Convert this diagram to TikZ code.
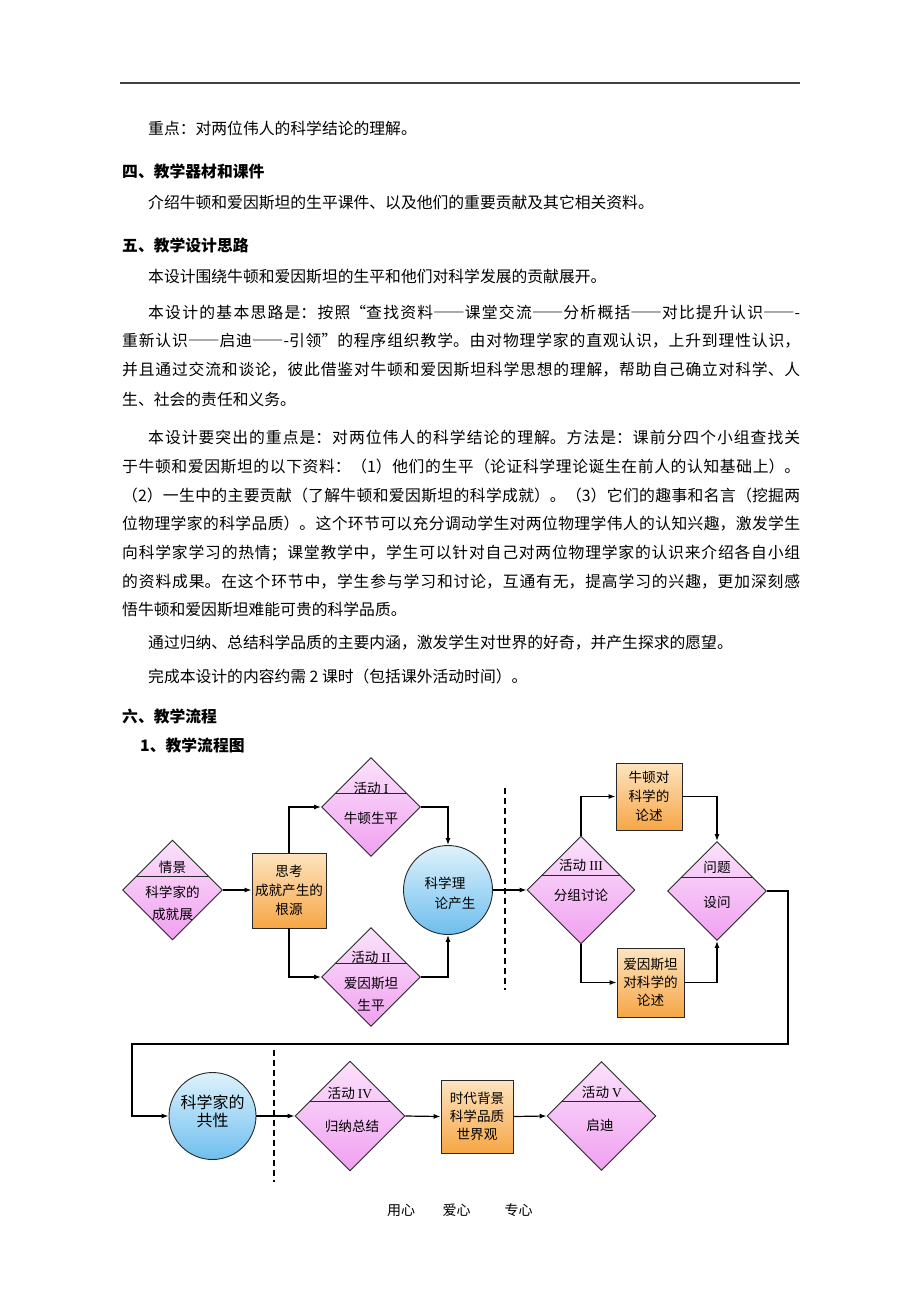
\documentclass[tikz,border=0pt]{standalone}
\usepackage{fontspec}
\setmainfont{Noto Sans CJK SC}
\newfontfamily\fw[RawFeature=+fwid]{Noto Sans CJK SC}
\newfontfamily\tnr{Liberation Serif}
\usetikzlibrary{shapes.geometric,arrows.meta}
\XeTeXlinebreaklocale "zh"
\XeTeXlinebreakskip=0pt plus 3pt minus 0.5pt
\definecolor{pinkT}{RGB}{251,226,251}
\definecolor{pinkB}{RGB}{240,160,240}
\definecolor{orT}{RGB}{253,228,192}
\definecolor{orB}{RGB}{246,166,70}
\definecolor{blT}{RGB}{222,242,252}
\definecolor{blB}{RGB}{110,190,238}
\definecolor{edge}{RGB}{40,40,40}
\newcommand\jl[2]{\parbox[b]{#1pt}{\tolerance=9999\parfillskip=0pt\relax #2}}
\begin{document}
\begin{tikzpicture}[x=1pt,y=-1pt,
  body/.style={inner sep=0,anchor=west,font=\fontsize{15.8}{18}\selectfont},
  head/.style={inner sep=0,anchor=west,font=\fontsize{15.8}{18}\selectfont\bfseries},
  dia/.style={diamond,shape aspect=1,draw=edge,line width=0.9pt,inner sep=0,minimum size=#1,
    top color=pinkT,bottom color=pinkB,
    path picture={\draw[edge,line width=0.9pt] ([yshift=0.135*#1]path picture bounding box.west) -- ([yshift=0.135*#1]path picture bounding box.east);}},
  obox/.style={rectangle,draw=edge,line width=0.9pt,top color=orT,bottom color=orB,inner sep=0,align=center,font=\fontsize{13.6}{19}\selectfont},
  circ/.style={circle,draw=edge,line width=0.9pt,top color=blT,bottom color=blB,inner sep=0},
  lab/.style={inner sep=0,align=center,font=\fontsize{13.6}{22}\selectfont},
  arr/.style={-{Latex[length=7pt,width=5pt]},line width=1.2pt,black},
  dsh/.style={dash pattern=on 6pt off 4pt,line width=1.3pt,black}]
\fill[white] (0,0) rectangle (920,1302);
\useasboundingbox (0,0) rectangle (920,1302);
\draw[line width=1.2pt,black!75] (120,83) -- (800,83);
% text
\node[body] (t1) at (148,128) {重点：对两位伟人的科学结论的理解。};
\node[head] (h4) at (122,171) {四、教学器材和课件};
\node[body] (t2) at (148,203) {介绍牛顿和爱因斯坦的生平课件、以及他们的重要贡献及其它相关资料。};
\node[head] (h5) at (122,245) {五、教学设计思路};
\node[body] (t3) at (148,277) {本设计围绕牛顿和爱因斯坦的生平和他们对科学发展的贡献展开。};
\node[body] (t4) at (148,312) {\jl{652}{本设计的基本思路是：按照{\fw “}查找资料{\fw ——}课堂交流{\fw ——}分析概括{\fw ——}对比提升认识{\fw ——}-}};
\node[body] (t5) at (122,341) {\jl{678}{重新认识{\fw ——}启迪{\fw ——}-引领{\fw ”}的程序组织教学。由对物理学家的直观认识，上升到理性认识，}};
\node[body] (t6) at (122,370) {\jl{678}{并且通过交流和谈论，彼此借鉴对牛顿和爱因斯坦科学思想的理解，帮助自己确立对科学、人}};
\node[body] (t7) at (122,399) {生、社会的责任和义务。};
\node[body] (t8) at (148,437) {\jl{652}{本设计要突出的重点是：对两位伟人的科学结论的理解。方法是：课前分四个小组查找关}};
\node[body] (t9) at (122,466) {\jl{678}{于牛顿和爱因斯坦的以下资料：（1）他们的生平（论证科学理论诞生在前人的认知基础上）。}};
\node[body] (t10) at (122,495) {\jl{678}{（2）一生中的主要贡献（了解牛顿和爱因斯坦的科学成就）。（3）它们的趣事和名言（挖掘两}};
\node[body] (t11) at (122,524) {\jl{678}{位物理学家的科学品质）。这个环节可以充分调动学生对两位物理学伟人的认知兴趣，激发学生}};
\node[body] (t12) at (122,553) {\jl{678}{向科学家学习的热情；课堂教学中，学生可以针对自己对两位物理学家的认识来介绍各自小组}};
\node[body] (t13) at (122,582) {\jl{678}{的资料成果。在这个环节中，学生参与学习和讨论，互通有无，提高学习的兴趣，更加深刻感}};
\node[body] (t14) at (122,610) {悟牛顿和爱因斯坦难能可贵的科学品质。};
\node[body] (t15) at (148,643) {通过归纳、总结科学品质的主要内涵，激发学生对世界的好奇，并产生探求的愿望。};
\node[body] (t16) at (148,676) {完成本设计的内容约需 2 课时（包括课外活动时间）。};
\node[head] (h6) at (122,716) {六、教学流程};
\node[head] (h61) at (140,745) {1、教学流程图};
% flowchart row 1
\node[dia=100] (d1) at (172.5,890) {};
\node[lab] (d1a) at (172.5,867) {情景};
\node[lab] (d1b) at (172.5,903) {科学家的\\成就展};
\node[obox,minimum width=74,minimum height=75] (b1) at (289,890.5) {思考\\成就产生的\\根源};
\node[dia=99] (a1) at (371,807) {};
\node[lab] (a1a) at (371,788) {活动 {\tnr I}};
\node[lab] (a1b) at (371,818) {牛顿生平};
\node[dia=99] (a2) at (371,977) {};
\node[lab] (a2a) at (371,957) {活动 {\tnr II}};
\node[lab] (a2b) at (371,994) {爱因斯坦\\生平};
\node[circ,minimum size=89] (c1) at (448,890) {};
\node[lab,align=left,font=\fontsize{13.6}{20}\selectfont] (c1t) at (450,893) {科学理\\\hspace*{10pt}论产生};
\node[dia=108] (d3) at (581,890) {};
\node[lab] (d3a) at (581,865) {活动 {\tnr III}};
\node[lab] (d3b) at (581,895) {分组讨论};
\node[obox,minimum width=66,minimum height=67] (n1) at (649,796.5) {牛顿对\\科学的\\论述};
\node[obox,minimum width=67,minimum height=69,font=\fontsize{13.6}{18}\selectfont] (n2) at (650.5,982.5) {爱因斯坦\\对科学的\\论述};
\node[dia=99] (d4) at (717,891) {};
\node[lab] (d4a) at (717,867) {问题};
\node[lab] (d4b) at (717,902) {设问};
\draw[arr] (d1.east) -- (d1.east -| b1.west);
\draw[arr] (b1.north) |- (a1.west);
\draw[arr] (b1.south) |- (a2.west);
\draw[arr] (a1.east) -| (c1.north);
\draw[arr] (a2.east) -| (c1.south);
\draw[dsh] (505,788) -- (505,990);
\draw[arr] (c1.east) -- (d3.west);
\draw[arr] (d3.north) |- (n1.west);
\draw[arr] (d3.south) |- (n2.west);
\draw[arr] (n1.east) -| (d4.north);
\draw[arr] (n2.east) -| (d4.south);
% row 2
\node[circ,minimum size=87] (c2) at (212.5,1116) {};
\node[lab,font=\fontsize{16}{18}\selectfont] (c2t) at (212.5,1111.5) {科学家的\\共性};
\draw[dsh] (274,1050) -- (274,1182);
\node[dia=110] (d5) at (350,1116) {};
\node[lab] (d5a) at (350,1093) {活动 {\tnr IV}};
\node[lab] (d5b) at (352,1126) {归纳总结};
\node[obox,minimum width=72,minimum height=73,font=\fontsize{13.6}{18}\selectfont] (b2) at (477,1116.5) {时代背景\\科学品质\\世界观};
\node[dia=109] (d6) at (601.5,1116) {};
\node[lab] (d6a) at (602,1092) {活动 {\tnr V}};
\node[lab] (d6b) at (600,1125) {启迪};
\coordinate (k1) at (788,1044);
\coordinate (k2) at (132,1044);
\draw[arr] (d4.east) -| (k1) -- (k2) |- (c2.west);
\draw[arr] (c2.east) -- (d5.west);
\draw[arr] (d5.east) -- (b2.west);
\draw[arr] (b2.east) -- (d6.west);
% footer
\node[inner sep=0,font=\fontsize{14}{16}\selectfont] (f1) at (401,1210) {用心};
\node[inner sep=0,font=\fontsize{14}{16}\selectfont] (f2) at (456.5,1210) {爱心};
\node[inner sep=0,font=\fontsize{14}{16}\selectfont] (f3) at (518.5,1210) {专心};
\end{tikzpicture}
\end{document}
